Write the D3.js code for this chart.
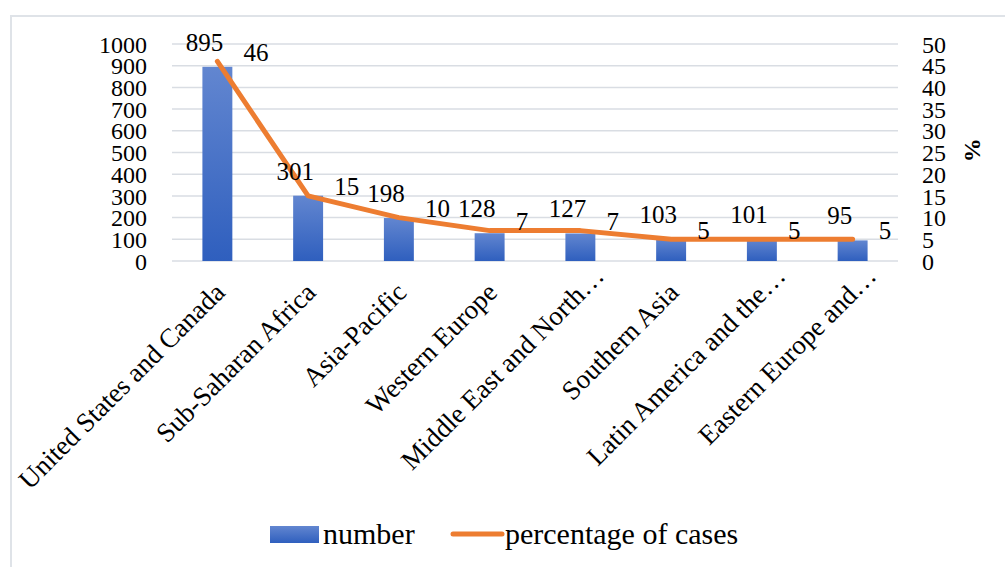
<!DOCTYPE html>
<html>
<head>
<meta charset="utf-8">
<script src="https://cdn.jsdelivr.net/npm/d3@7"></script>
<style>
  body { margin: 0; background: #fff; }
</style>
</head>
<body>
<div id="wrapper"></div>
<script>
const regions = ["United States and Canada", "Sub-Saharan Africa", "Asia-Pacific", "Western Europe",
  "Middle East and North…", "Southern Asia", "Latin America and the…", "Eastern Europe and…"];
const numbers = [895, 301, 198, 128, 127, 103, 101, 95];
const percents = [46, 15, 10, 7, 7, 5, 5, 5];
const leftTicks = [0, 100, 200, 300, 400, 500, 600, 700, 800, 900, 1000];
const rightTicks = [0, 5, 10, 15, 20, 25, 30, 35, 40, 45, 50];

const FONT = "Liberation Serif";
const W = 1005, H = 567;
const margin = {top: 44, right: 107, bottom: 306, left: 172};
const width = W - margin.left - margin.right;
const height = H - margin.top - margin.bottom;

const svg = d3.select("#wrapper").append("svg")
  .attr("width", W)
  .attr("height", H)
  .attr("font-family", FONT);

// chart frame (only top and left edges visible)
svg.append("path")
  .attr("d", `M11,${H} L11,16 L${W},16`)
  .attr("fill", "none")
  .attr("stroke", "#dfe3e8")
  .attr("stroke-width", 2);

const defs = svg.append("defs");
const grad = defs.append("linearGradient")
  .attr("id", "barGrad")
  .attr("x1", 0).attr("y1", 0).attr("x2", 0).attr("y2", 1);
grad.append("stop").attr("offset", "0%").attr("stop-color", "#6286d0");
grad.append("stop").attr("offset", "100%").attr("stop-color", "#2f5fbe");

const g = svg.append("g")
  .attr("transform", `translate(${margin.left},${margin.top})`);

const x = d3.scaleBand().domain(regions).range([0, width]).padding(0);
const yL = d3.scaleLinear().domain([0, 1000]).range([height, 0]);
const yR = d3.scaleLinear().domain([0, 50]).range([height, 0]);

// gridlines
g.append("g")
  .selectAll("line")
  .data(leftTicks)
  .join("line")
  .attr("x1", 0).attr("x2", width)
  .attr("y1", d => yL(d)).attr("y2", d => yL(d))
  .attr("stroke", "#d9dde3")
  .attr("stroke-width", 1.5);

// left axis
const leftAxis = g.append("g")
  .call(d3.axisLeft(yL).tickValues(leftTicks).tickFormat(d3.format("d")).tickSize(0).tickPadding(25));
leftAxis.attr("font-family", FONT).attr("font-size", 24);
leftAxis.select(".domain").remove();
leftAxis.selectAll("text")
  .attr("dy", "0.34em")
  .attr("fill", "#000");

// right axis
const rightAxis = g.append("g")
  .attr("transform", `translate(${width},0)`)
  .call(d3.axisRight(yR).tickValues(rightTicks).tickFormat(d3.format("d")).tickSize(0).tickPadding(24));
rightAxis.attr("font-family", FONT).attr("font-size", 24);
rightAxis.select(".domain").remove();
rightAxis.selectAll("text")
  .attr("dy", "0.34em")
  .attr("fill", "#000");

svg.append("text")
  .attr("transform", `translate(965,150) rotate(90)`)
  .attr("text-anchor", "middle")
  .attr("font-size", 24)
  .attr("font-weight", "bold")
  .text("%");

// bars
const barW = x.bandwidth() * 0.33;
g.selectAll("rect.bar")
  .data(numbers)
  .join("rect")
  .attr("class", "bar")
  .attr("x", (d, i) => x(regions[i]) + x.bandwidth() / 2 - barW / 2)
  .attr("y", d => yL(d))
  .attr("width", barW)
  .attr("height", d => height - yL(d))
  .attr("fill", "url(#barGrad)");

// line
const line = d3.line()
  .x((d, i) => x(regions[i]) + x.bandwidth() / 2)
  .y(d => yR(d));
g.append("path")
  .datum(percents)
  .attr("d", line)
  .attr("fill", "none")
  .attr("stroke", "#ed7d31")
  .attr("stroke-width", 5)
  .attr("stroke-linejoin", "round")
  .attr("stroke-linecap", "round");

// bar labels
g.selectAll("text.numlab")
  .data(numbers)
  .join("text")
  .attr("class", "numlab")
  .attr("x", (d, i) => x(regions[i]) + x.bandwidth() / 2 - 13)
  .attr("y", d => yL(d) - 16)
  .attr("text-anchor", "middle")
  .attr("font-size", 25)
  .text(d => d);

// percentage labels
g.selectAll("text.pctlab")
  .data(percents)
  .join("text")
  .attr("class", "pctlab")
  .attr("x", (d, i) => x(regions[i]) + x.bandwidth() / 2 + 26)
  .attr("y", d => yR(d) - 9)
  .attr("dy", "0.34em")
  .attr("font-size", 25)
  .text(d => d);

// category labels (truncated ones let the ellipsis hang past the tick)
g.selectAll("text.cat")
  .data(regions)
  .join("text")
  .attr("class", "cat")
  .attr("transform", d => `translate(${x(d) + x.bandwidth() / 2 + 9},${height + 33}) rotate(-45)`)
  .attr("text-anchor", "end")
  .attr("dx", d => d.endsWith("…") ? "0.85em" : 0)
  .attr("font-size", 27)
  .text(d => d);

// legend
const legend = svg.append("g").attr("font-size", 30);
legend.append("rect")
  .attr("x", 270).attr("y", 526)
  .attr("width", 49).attr("height", 17)
  .attr("fill", "url(#barGrad)");
legend.append("text")
  .attr("x", 323).attr("y", 544)
  .text("number");
legend.append("line")
  .attr("x1", 453).attr("x2", 502)
  .attr("y1", 534).attr("y2", 534)
  .attr("stroke", "#ed7d31")
  .attr("stroke-width", 5)
  .attr("stroke-linecap", "round");
legend.append("text")
  .attr("x", 505).attr("y", 544)
  .text("percentage of cases");
</script>
</body>
</html>
